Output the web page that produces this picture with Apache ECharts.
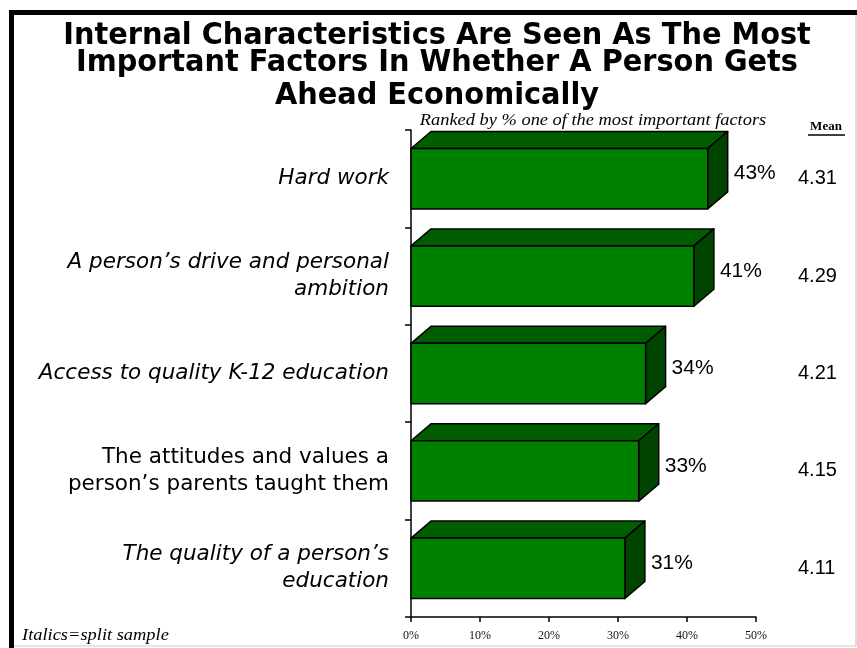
<!DOCTYPE html>
<html>
<head>
<meta charset="utf-8">
<script src="https://cdn.jsdelivr.net/npm/echarts@6/dist/echarts.min.js"></script>
<style>
  html, body { margin: 0; padding: 0; background: #fff; }
  #chart { width: 857px; height: 648px; }
</style>
</head>
<body>
<div id="chart"></div>
<script>
// Factors, share naming each one of the most important, and mean rating
var categories = [
  'Hard work',
  'A person\u2019s drive and personal\nambition',
  'Access to quality K-12 education',
  'The attitudes and values a\nperson\u2019s parents taught them',
  'The quality of a person\u2019s\neducation'
];
var splitSample = [true, true, true, false, true];
var percentValues = [43, 41, 34, 33, 31];
var meanValues = ['4.31', '4.29', '4.21', '4.15', '4.11'];
var xTicks = [0, 10, 20, 30, 40, 50];

var titleLines = [
  'Internal Characteristics Are Seen As The Most',
  'Important Factors In Whether A Person Gets',
  'Ahead Economically'
];
var subtitle = 'Ranked by % one of the most important factors';
var footnote = 'Italics=split sample';

var FRONT = '#008000';
var TOP = '#005e00';
var SIDE = '#004400';
var DEPTH_X = 20;
var DEPTH_Y = 17;

var chart = echarts.init(document.getElementById('chart'), null, { renderer: 'canvas' });

var titleY = [36, 63, 96];
var titleGraphics = titleLines.map(function (line, i) {
  return {
    type: 'text',
    x: 437,
    y: titleY[i],
    scaleX: 0.96,
    style: {
      text: line,
      font: 'bold 30px "DejaVu Sans"',
      fill: '#000',
      align: 'center',
      verticalAlign: 'middle'
    }
  };
});

var option = {
  backgroundColor: '#ffffff',
  animation: false,
  grid: { left: 411, right: 101, top: 130, bottom: 31, containLabel: false },
  xAxis: {
    type: 'value',
    min: xTicks[0],
    max: xTicks[xTicks.length - 1],
    interval: xTicks[1] - xTicks[0],
    axisLine: { show: true, lineStyle: { color: '#000', width: 1.5 } },
    axisTick: { show: true, length: 5, lineStyle: { color: '#000', width: 1.5 } },
    splitLine: { show: false },
    axisLabel: {
      margin: 13,
      fontFamily: '"Liberation Serif", serif',
      fontSize: 12,
      color: '#111',
      formatter: function (v) { return v + '%'; }
    }
  },
  yAxis: {
    type: 'category',
    inverse: true,
    data: categories,
    axisLine: { show: true, lineStyle: { color: '#000', width: 1.5 } },
    axisTick: { show: true, length: 6, lineStyle: { color: '#000', width: 1.5 } },
    axisLabel: {
      margin: 22,
      align: 'right',
      formatter: function (value, idx) {
        var tag = splitSample[idx] ? 'it' : 'rg';
        return value.split('\n').map(function (l) { return '{' + tag + '|' + l + '}'; }).join('\n');
      },
      rich: {
        it: { fontFamily: '"DejaVu Sans"', fontStyle: 'italic', fontSize: 21.5, lineHeight: 27, color: '#000' },
        rg: { fontFamily: '"DejaVu Sans"', fontSize: 21.5, lineHeight: 27, color: '#000' }
      }
    }
  },
  graphic: titleGraphics.concat([
    // slide frame
    { type: 'rect', shape: { x: 9, y: 10, width: 848, height: 5 }, style: { fill: '#000' } },
    { type: 'rect', shape: { x: 9, y: 10, width: 5, height: 638 }, style: { fill: '#000' } },
    { type: 'line', shape: { x1: 856, y1: 15, x2: 856, y2: 646 }, style: { stroke: '#bbb', lineWidth: 1 } },
    { type: 'line', shape: { x1: 14, y1: 646, x2: 856, y2: 646 }, style: { stroke: '#ccc', lineWidth: 1 } },
    {
      type: 'text', x: 593, y: 121, scaleX: 1.15,
      style: { text: subtitle, font: 'italic 16px "Liberation Serif"', fill: '#000', align: 'center', verticalAlign: 'middle' }
    },
    {
      type: 'text', x: 826, y: 127,
      style: { text: 'Mean', font: 'bold 13px "Liberation Serif"', fill: '#000', align: 'center', verticalAlign: 'middle' }
    },
    { type: 'line', shape: { x1: 808, y1: 135, x2: 845, y2: 135 }, style: { stroke: '#000', lineWidth: 1.5 } },
    {
      type: 'text', x: 22, y: 636, scaleX: 1.15,
      style: { text: footnote, font: 'italic 16px "Liberation Serif"', fill: '#000', align: 'left', verticalAlign: 'middle' }
    }
  ]),
  series: [{
    type: 'custom',
    clip: false,
    encode: { x: 0, y: 1 },
    data: percentValues.map(function (v, i) { return [v, i]; }),
    renderItem: function (params, api) {
      var i = api.value(1);
      var v = api.value(0);
      var p0 = api.coord([0, i]);
      var p1 = api.coord([v, i]);
      var band = api.size([0, 1])[1];
      var h = band * 0.62;
      var yT = p0[1] - h / 2;
      var yB = p0[1] + h / 2;
      var x0 = p0[0];
      var x1 = p1[0];
      var cs = params.coordSys;
      var stroke = { stroke: '#000', lineWidth: 1.5, lineJoin: 'round' };
      return {
        type: 'group',
        children: [
          {
            type: 'polygon',
            shape: { points: [[x0, yT], [x0 + DEPTH_X, yT - DEPTH_Y], [x1 + DEPTH_X, yT - DEPTH_Y], [x1, yT]] },
            style: Object.assign({ fill: TOP }, stroke)
          },
          {
            type: 'polygon',
            shape: { points: [[x1, yT], [x1 + DEPTH_X, yT - DEPTH_Y], [x1 + DEPTH_X, yB - DEPTH_Y], [x1, yB]] },
            style: Object.assign({ fill: SIDE }, stroke)
          },
          {
            type: 'rect',
            shape: { x: x0, y: yT, width: x1 - x0, height: h },
            style: Object.assign({ fill: FRONT }, stroke)
          },
          {
            type: 'text',
            x: x1 + DEPTH_X + 6,
            y: p0[1] - 5,
            style: { text: v + '%', font: '21px "Liberation Sans"', fill: '#000', align: 'left', verticalAlign: 'middle' }
          },
          {
            type: 'text',
            x: cs.x + cs.width + 42,
            y: p0[1],
            style: { text: meanValues[i], font: '20px "Liberation Sans"', fill: '#000', align: 'left', verticalAlign: 'middle' }
          }
        ]
      };
    }
  }]
};

chart.setOption(option);
</script>
</body>
</html>
